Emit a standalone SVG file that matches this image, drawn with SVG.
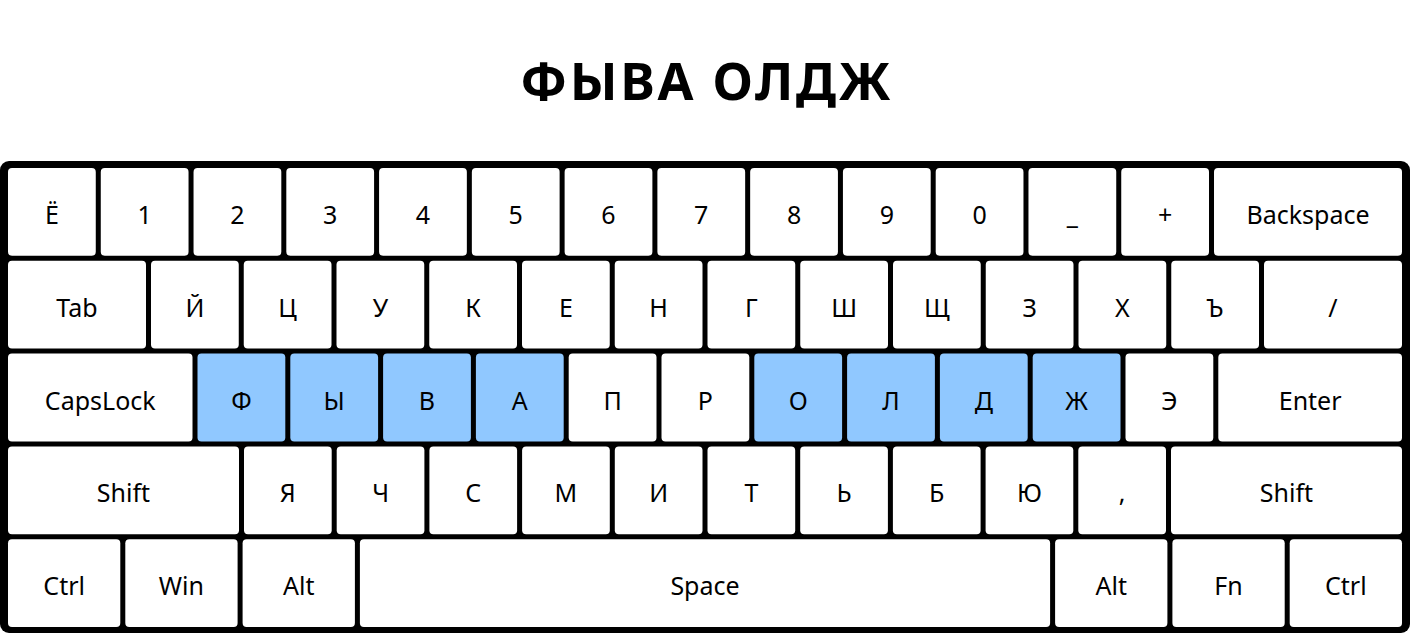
<svg xmlns="http://www.w3.org/2000/svg" width="1411" height="636" viewBox="0 0 1411 636">
<style>
.k{fill:#fff;}
.h{fill:#90c8ff;}
.t{font-family:"Noto Sans","Open Sans",sans-serif;font-size:25px;fill:#000;text-anchor:middle;}
.title{font-family:"Noto Sans","Open Sans",sans-serif;font-size:52px;font-weight:bold;letter-spacing:2.7px;fill:#000;text-anchor:middle;}
</style>
<rect width="1411" height="636" fill="#fff"/>
<text class="title" x="706.8" y="100">ФЫВА ОЛДЖ</text>
<rect id="board" x="0" y="161" width="1410" height="472" rx="9" fill="#000"/>
<g id="row1">
<g id="k-yo"><rect class="k" x="8" y="168" width="87.77" height="87.8" rx="4"/><text class="t" x="51.89" y="224">Ё</text></g>
<g id="k-1"><rect class="k" x="100.77" y="168" width="87.77" height="87.8" rx="4"/><text class="t" x="144.66" y="224">1</text></g>
<g id="k-2"><rect class="k" x="193.54" y="168" width="87.77" height="87.8" rx="4"/><text class="t" x="237.43" y="224">2</text></g>
<g id="k-3"><rect class="k" x="286.31" y="168" width="87.77" height="87.8" rx="4"/><text class="t" x="330.2" y="224">3</text></g>
<g id="k-4"><rect class="k" x="379.08" y="168" width="87.77" height="87.8" rx="4"/><text class="t" x="422.97" y="224">4</text></g>
<g id="k-5"><rect class="k" x="471.85" y="168" width="87.77" height="87.8" rx="4"/><text class="t" x="515.74" y="224">5</text></g>
<g id="k-6"><rect class="k" x="564.62" y="168" width="87.77" height="87.8" rx="4"/><text class="t" x="608.51" y="224">6</text></g>
<g id="k-7"><rect class="k" x="657.39" y="168" width="87.77" height="87.8" rx="4"/><text class="t" x="701.28" y="224">7</text></g>
<g id="k-8"><rect class="k" x="750.16" y="168" width="87.77" height="87.8" rx="4"/><text class="t" x="794.05" y="224">8</text></g>
<g id="k-9"><rect class="k" x="842.93" y="168" width="87.77" height="87.8" rx="4"/><text class="t" x="886.82" y="224">9</text></g>
<g id="k-0"><rect class="k" x="935.7" y="168" width="87.77" height="87.8" rx="4"/><text class="t" x="979.59" y="224">0</text></g>
<g id="k-minus"><rect class="k" x="1028.47" y="168" width="87.77" height="87.8" rx="4"/><text class="t" x="1072.36" y="224">_</text></g>
<g id="k-plus"><rect class="k" x="1121.24" y="168" width="87.77" height="87.8" rx="4"/><text class="t" x="1165.13" y="224">+</text></g>
<g id="k-backspace"><rect class="k" x="1214.01" y="168" width="187.99" height="87.8" rx="4"/><text class="t" x="1308" y="224">Backspace</text></g>
</g>
<g id="row2">
<g id="k-tab"><rect class="k" x="8" y="260.8" width="138" height="87.8" rx="4"/><text class="t" x="77" y="316.8">Tab</text></g>
<g id="k-j"><rect class="k" x="151" y="260.8" width="87.75" height="87.8" rx="4"/><text class="t" x="194.88" y="316.8">Й</text></g>
<g id="k-ts"><rect class="k" x="243.75" y="260.8" width="87.75" height="87.8" rx="4"/><text class="t" x="287.63" y="316.8">Ц</text></g>
<g id="k-u"><rect class="k" x="336.5" y="260.8" width="87.75" height="87.8" rx="4"/><text class="t" x="380.38" y="316.8">У</text></g>
<g id="k-k"><rect class="k" x="429.25" y="260.8" width="87.75" height="87.8" rx="4"/><text class="t" x="473.13" y="316.8">К</text></g>
<g id="k-e"><rect class="k" x="522" y="260.8" width="87.75" height="87.8" rx="4"/><text class="t" x="565.88" y="316.8">Е</text></g>
<g id="k-n"><rect class="k" x="614.75" y="260.8" width="87.75" height="87.8" rx="4"/><text class="t" x="658.63" y="316.8">Н</text></g>
<g id="k-g"><rect class="k" x="707.5" y="260.8" width="87.75" height="87.8" rx="4"/><text class="t" x="751.38" y="316.8">Г</text></g>
<g id="k-sh"><rect class="k" x="800.25" y="260.8" width="87.75" height="87.8" rx="4"/><text class="t" x="844.13" y="316.8">Ш</text></g>
<g id="k-shch"><rect class="k" x="893" y="260.8" width="87.75" height="87.8" rx="4"/><text class="t" x="936.88" y="316.8">Щ</text></g>
<g id="k-z"><rect class="k" x="985.75" y="260.8" width="87.75" height="87.8" rx="4"/><text class="t" x="1029.63" y="316.8">З</text></g>
<g id="k-kh"><rect class="k" x="1078.5" y="260.8" width="87.75" height="87.8" rx="4"/><text class="t" x="1122.38" y="316.8">Х</text></g>
<g id="k-hard"><rect class="k" x="1171.25" y="260.8" width="87.75" height="87.8" rx="4"/><text class="t" x="1215.13" y="316.8">Ъ</text></g>
<g id="k-slash"><rect class="k" x="1264" y="260.8" width="138" height="87.8" rx="4"/><text class="t" x="1333" y="316.8">/</text></g>
</g>
<g id="row3">
<g id="k-caps"><rect class="k" x="8" y="353.6" width="184.5" height="87.8" rx="4"/><text class="t" x="100.25" y="409.6">CapsLock</text></g>
<g id="k-f"><rect class="h" x="197.5" y="353.6" width="87.8" height="87.8" rx="4"/><text class="t" x="241.4" y="409.6">Ф</text></g>
<g id="k-y"><rect class="h" x="290.3" y="353.6" width="87.8" height="87.8" rx="4"/><text class="t" x="334.2" y="409.6">Ы</text></g>
<g id="k-v"><rect class="h" x="383.1" y="353.6" width="87.8" height="87.8" rx="4"/><text class="t" x="427" y="409.6">В</text></g>
<g id="k-a"><rect class="h" x="475.9" y="353.6" width="87.8" height="87.8" rx="4"/><text class="t" x="519.8" y="409.6">А</text></g>
<g id="k-p"><rect class="k" x="568.7" y="353.6" width="87.8" height="87.8" rx="4"/><text class="t" x="612.6" y="409.6">П</text></g>
<g id="k-r"><rect class="k" x="661.5" y="353.6" width="87.8" height="87.8" rx="4"/><text class="t" x="705.4" y="409.6">Р</text></g>
<g id="k-o"><rect class="h" x="754.3" y="353.6" width="87.8" height="87.8" rx="4"/><text class="t" x="798.2" y="409.6">О</text></g>
<g id="k-l"><rect class="h" x="847.1" y="353.6" width="87.8" height="87.8" rx="4"/><text class="t" x="891" y="409.6">Л</text></g>
<g id="k-d"><rect class="h" x="939.9" y="353.6" width="87.8" height="87.8" rx="4"/><text class="t" x="983.8" y="409.6">Д</text></g>
<g id="k-zh"><rect class="h" x="1032.7" y="353.6" width="87.8" height="87.8" rx="4"/><text class="t" x="1076.6" y="409.6">Ж</text></g>
<g id="k-ee"><rect class="k" x="1125.5" y="353.6" width="87.8" height="87.8" rx="4"/><text class="t" x="1169.4" y="409.6">Э</text></g>
<g id="k-enter"><rect class="k" x="1218.3" y="353.6" width="183.7" height="87.8" rx="4"/><text class="t" x="1310.15" y="409.6">Enter</text></g>
</g>
<g id="row4">
<g id="k-lshift"><rect class="k" x="8" y="446.4" width="231" height="87.8" rx="4"/><text class="t" x="123.5" y="502.4">Shift</text></g>
<g id="k-ya"><rect class="k" x="244" y="446.4" width="87.7" height="87.8" rx="4"/><text class="t" x="287.85" y="502.4">Я</text></g>
<g id="k-ch"><rect class="k" x="336.7" y="446.4" width="87.7" height="87.8" rx="4"/><text class="t" x="380.55" y="502.4">Ч</text></g>
<g id="k-s"><rect class="k" x="429.4" y="446.4" width="87.7" height="87.8" rx="4"/><text class="t" x="473.25" y="502.4">С</text></g>
<g id="k-m"><rect class="k" x="522.1" y="446.4" width="87.7" height="87.8" rx="4"/><text class="t" x="565.95" y="502.4">М</text></g>
<g id="k-i"><rect class="k" x="614.8" y="446.4" width="87.7" height="87.8" rx="4"/><text class="t" x="658.65" y="502.4">И</text></g>
<g id="k-t"><rect class="k" x="707.5" y="446.4" width="87.7" height="87.8" rx="4"/><text class="t" x="751.35" y="502.4">Т</text></g>
<g id="k-soft"><rect class="k" x="800.2" y="446.4" width="87.7" height="87.8" rx="4"/><text class="t" x="844.05" y="502.4">Ь</text></g>
<g id="k-b"><rect class="k" x="892.9" y="446.4" width="87.7" height="87.8" rx="4"/><text class="t" x="936.75" y="502.4">Б</text></g>
<g id="k-yu"><rect class="k" x="985.6" y="446.4" width="87.7" height="87.8" rx="4"/><text class="t" x="1029.45" y="502.4">Ю</text></g>
<g id="k-comma"><rect class="k" x="1078.3" y="446.4" width="87.7" height="87.8" rx="4"/><text class="t" x="1122.15" y="502.4">,</text></g>
<g id="k-rshift"><rect class="k" x="1171" y="446.4" width="231" height="87.8" rx="4"/><text class="t" x="1286.5" y="502.4">Shift</text></g>
</g>
<g id="row5">
<g id="k-lctrl"><rect class="k" x="8" y="539.2" width="112.3" height="87.8" rx="4"/><text class="t" x="64.15" y="595.2">Ctrl</text></g>
<g id="k-win"><rect class="k" x="125.3" y="539.2" width="112.3" height="87.8" rx="4"/><text class="t" x="181.45" y="595.2">Win</text></g>
<g id="k-lalt"><rect class="k" x="242.6" y="539.2" width="112.3" height="87.8" rx="4"/><text class="t" x="298.75" y="595.2">Alt</text></g>
<g id="k-space"><rect class="k" x="359.9" y="539.2" width="690.2" height="87.8" rx="4"/><text class="t" x="705" y="595.2">Space</text></g>
<g id="k-ralt"><rect class="k" x="1055.1" y="539.2" width="112.3" height="87.8" rx="4"/><text class="t" x="1111.25" y="595.2">Alt</text></g>
<g id="k-fn"><rect class="k" x="1172.4" y="539.2" width="112.3" height="87.8" rx="4"/><text class="t" x="1228.55" y="595.2">Fn</text></g>
<g id="k-rctrl"><rect class="k" x="1289.7" y="539.2" width="112.3" height="87.8" rx="4"/><text class="t" x="1345.85" y="595.2">Ctrl</text></g>
</g>
<g id="connectors"/>
</svg>
